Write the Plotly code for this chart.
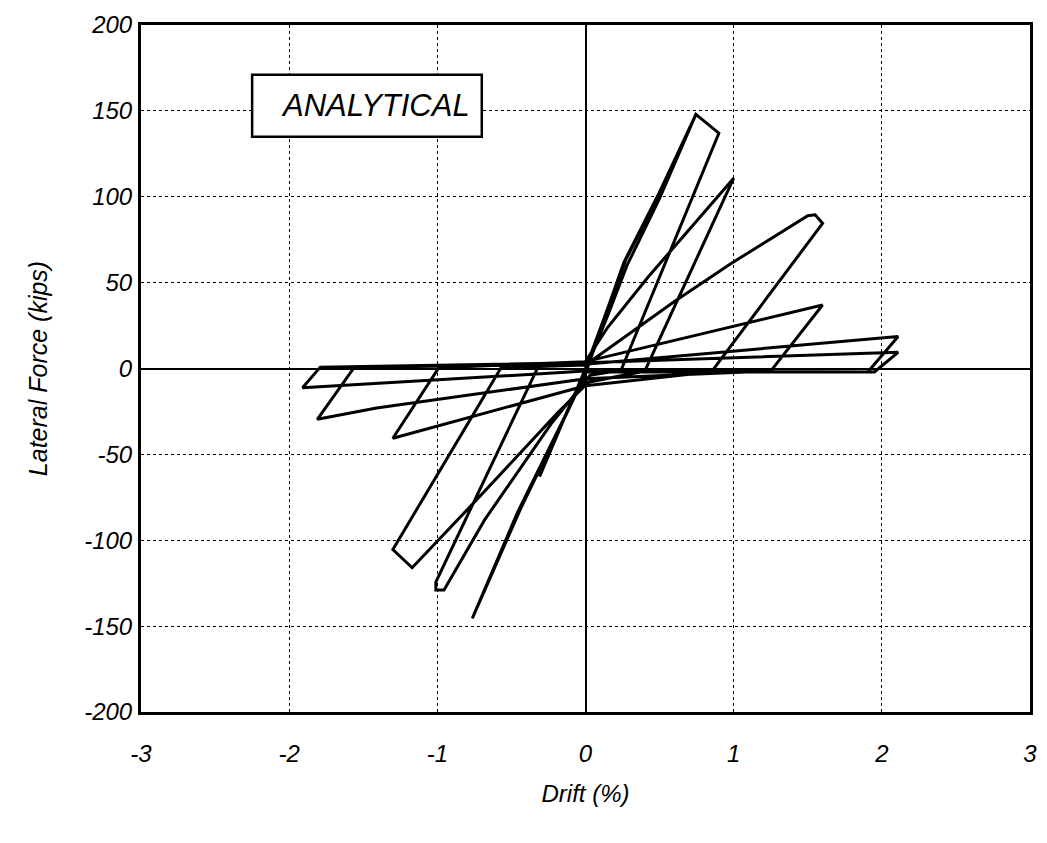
import plotly.graph_objects as go

# Hysteresis path (drift %, lateral force kips)
drift = [
    0.00, -0.31, 0.00,
    0.15, 0.26, 0.49, 0.745,
    0.50, 0.28, 0.16, 0.02,
    -0.14, -0.46, -0.764,
    -0.44, -0.12, 0.00,
    0.16, 0.27, 0.50, 0.745, 0.90,
    0.24, 0.03,
    -0.23, -0.68, -0.955, -1.01, -1.01,
    -0.32, 0.00,
    0.15, 0.42, 1.00,
    0.40, 0.02,
    -0.19, -0.73, -1.17, -1.30,
    -0.57, 0.00,
    0.60, 0.98, 1.50, 1.55, 1.60,
    0.85, 0.00,
    -1.30,
    -0.99, 0.00,
    0.51, 1.07, 1.60,
    1.25, 0.00,
    -1.41, -1.81,
    -1.56, 0.00,
    2.11,
    1.905, 0.00,
    -1.02, -1.91,
    -1.79, 0.00,
    2.11,
    1.95, 0.00,
]
force = [
    0.0, -63.0, 0.0,
    35.0, 62.0, 101.0, 148.0,
    99.0, 60.0, 33.0, 3.0,
    -28.0, -84.0, -145.5,
    -82.0, -25.0, -3.0,
    37.0, 63.0, 102.0, 148.0, 137.0,
    -1.0, -4.0,
    -32.0, -88.0, -129.0, -129.0, -124.3,
    1.0, 4.0,
    24.0, 53.0, 110.8,
    -1.5, -8.0,
    -26.0, -76.0, -116.0, -105.4,
    0.5, 2.0,
    39.0, 61.0, 89.0, 89.5, 84.5,
    -2.0, -10.0,
    -40.6,
    0.5, 4.0,
    14.6, 26.4, 37.0,
    -1.5, -6.0,
    -23.0, -29.6,
    0.8, 2.5,
    18.6,
    -2.0, -1.5,
    -6.9, -11.2,
    0.8, 3.4,
    9.4,
    -2.0, -2.0,
]

x_ticks = [-3, -2, -1, 0, 1, 2, 3]
x_ticklabels = ["-3", "-2", "-1", "0", "1", "2", "3"]
y_ticks = [-200, -150, -100, -50, 0, 50, 100, 150, 200]
y_ticklabels = ["-200", "-150", "-100", "-50", "0", "50", "100", "150", "200"]

label_text = "ANALYTICAL"
x_title = "Drift (%)"
y_title = "Lateral Force (kips)"

FONT = "Liberation Sans, Arial, sans-serif"

fig = go.Figure()
fig.add_trace(go.Scatter(
    x=drift, y=force, mode="lines",
    line=dict(color="black", width=3),
    showlegend=False, hoverinfo="skip",
))

axis_common = dict(
    showgrid=True, gridcolor="black", gridwidth=1, griddash="dot",
    zeroline=True, zerolinecolor="black", zerolinewidth=1.5,
    showline=True, linecolor="black", linewidth=3, mirror=True,
    ticks="", ticklabeloverflow="allow", automargin=False,
    tickfont=dict(family=FONT, size=24, color="black", style="italic"),
)

fig.update_layout(
    width=1031, height=827,
    margin=dict(l=133, r=9, t=17, b=123),
    paper_bgcolor="white", plot_bgcolor="white",
    xaxis=dict(
        range=[-3, 3], tickvals=x_ticks, ticktext=x_ticklabels,
        ticklabelstandoff=18,
        title=dict(text=x_title, standoff=20,
                   font=dict(family=FONT, size=24, color="black", style="italic")),
        **axis_common,
    ),
    yaxis=dict(
        range=[-200, 200], tickvals=y_ticks, ticktext=y_ticklabels,
        ticklabelstandoff=1,
        title=dict(text=y_title, standoff=30,
                   font=dict(family=FONT, size=25, color="black", style="italic")),
        **axis_common,
    ),
)

fig.add_shape(
    type="rect", xref="x", yref="y",
    x0=-2.25, x1=-0.70, y0=135, y1=171,
    line=dict(color="black", width=2.5), fillcolor="white", layer="above",
)
fig.add_annotation(
    x=-1.42, y=153, xref="x", yref="y", text=label_text, showarrow=False,
    font=dict(family=FONT, size=31, color="black", style="italic"),
)

fig.write_html("out.html")
